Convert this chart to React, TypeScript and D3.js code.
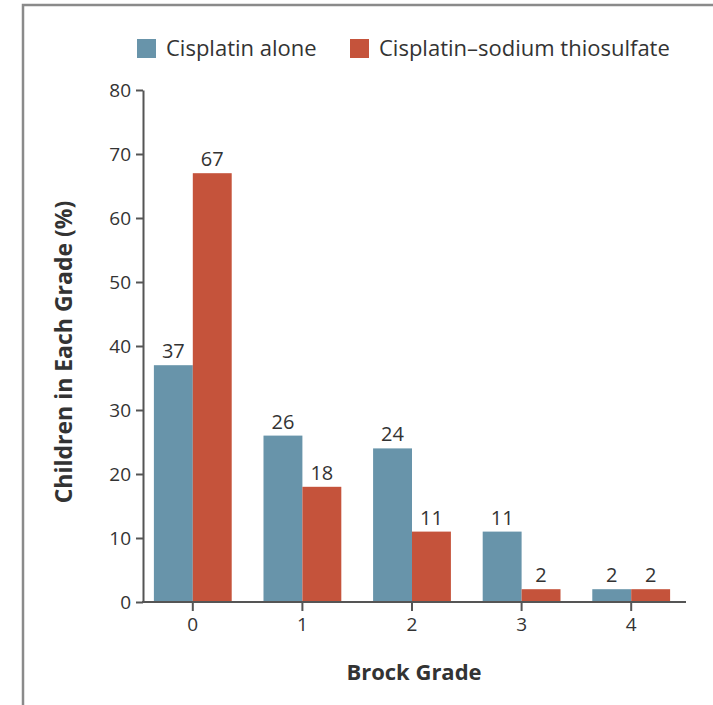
import { useEffect, useRef } from "react";
import * as d3 from "d3";

const grades = ["0", "1", "2", "3", "4"];
const seriesNames = ["Cisplatin alone", "Cisplatin\u2013sodium thiosulfate"];
const cisplatinAlone = [37, 26, 24, 11, 2];
const cisplatinSts = [67, 18, 11, 2, 2];
const yTicks = [0, 10, 20, 30, 40, 50, 60, 70, 80];
const colors = ["#6894aa", "#c5533b"];

function App() {
    const svgRef = useRef<SVGSVGElement>(null);
    const width = 713, height = 705;

    useEffect(() => {
        const svg = d3.select(svgRef.current);
        svg.selectAll("*").remove();
        const font = "'Open Sans', sans-serif";

        // frame
        svg.append("path")
            .attr("d", `M23,${height} V5 H${width}`)
            .attr("fill", "none")
            .attr("stroke", "#8a8a8a")
            .attr("stroke-width", 2.5);

        const x0 = d3.scaleBand().domain(grades).range([138, 686]).paddingInner(0.29).paddingOuter(0.145);
        const x1 = d3.scaleBand().domain(["0", "1"]).range([0, x0.bandwidth()]);
        const y = d3.scaleLinear().domain([0, 80]).range([602, 90]);

        const rows = grades.map((g, i) => ({ g, vals: [cisplatinAlone[i], cisplatinSts[i]] }));

        const groups = svg.append("g").selectAll("g").data(rows).enter().append("g")
            .attr("transform", (d) => `translate(${x0(d.g)},0)`);

        groups.selectAll("rect").data((d) => d.vals.map((v, k) => ({ v, k })))
            .enter().append("rect")
            .attr("x", (d) => x1(String(d.k))!)
            .attr("y", (d) => y(d.v))
            .attr("width", x1.bandwidth())
            .attr("height", (d) => y(0) - y(d.v))
            .attr("fill", (d) => colors[d.k]);

        groups.selectAll("text").data((d) => d.vals.map((v, k) => ({ v, k })))
            .enter().append("text")
            .attr("x", (d) => x1(String(d.k))! + x1.bandwidth() / 2)
            .attr("y", (d) => y(d.v) - 7)
            .attr("text-anchor", "middle")
            .attr("font-family", font)
            .attr("font-size", 20)
            .attr("fill", "#333")
            .text((d) => d.v);

        // y axis
        const yAxis = svg.append("g")
            .attr("transform", "translate(143,0)")
            .call(d3.axisLeft(y).tickValues(yTicks).tickSize(7).tickPadding(5).tickSizeOuter(0));
        yAxis.select(".domain").attr("stroke", "#555").attr("stroke-width", 2);
        yAxis.selectAll(".tick line").attr("stroke", "#555").attr("stroke-width", 2);
        yAxis.selectAll(".tick text").attr("font-family", font).attr("font-size", 19).attr("fill", "#333");

        // x axis
        const xAxis = svg.append("g")
            .attr("transform", "translate(0,602)")
            .call(d3.axisBottom(x0).tickSize(9).tickPadding(7).tickSizeOuter(0));
        xAxis.select(".domain").attr("stroke", "#555").attr("stroke-width", 2)
            .attr("d", "M142,0H686");
        xAxis.selectAll(".tick line").attr("stroke", "#555").attr("stroke-width", 2);
        xAxis.selectAll(".tick text").attr("font-family", font).attr("font-size", 19).attr("fill", "#333");

        svg.append("text")
            .attr("x", 414).attr("y", 680)
            .attr("text-anchor", "middle")
            .attr("font-family", font).attr("font-weight", "bold").attr("font-size", 22)
            .attr("fill", "#333")
            .text("Brock Grade");

        svg.append("text")
            .attr("transform", `translate(72,${(y(0) + y(80)) / 2 + 6}) rotate(-90)`)
            .attr("text-anchor", "middle")
            .attr("font-family", font).attr("font-weight", "bold").attr("font-size", 23)
            .attr("fill", "#333")
            .text("Children in Each Grade (%)");

        // legend
        const legendX = [137, 350];
        seriesNames.forEach((name, k) => {
            svg.append("rect")
                .attr("x", legendX[k]).attr("y", 39)
                .attr("width", 19).attr("height", 19)
                .attr("fill", colors[k]);
            svg.append("text")
                .attr("x", legendX[k] + 29).attr("y", 56)
                .attr("font-family", font).attr("font-size", 22)
                .attr("fill", "#333")
                .text(name);
        });
    }, []);

    return (
        <div style={{ position: "absolute", left: 0, top: 0 }}>
            <svg ref={svgRef} width={width} height={height}></svg>
        </div>
    );
}

export default App;
